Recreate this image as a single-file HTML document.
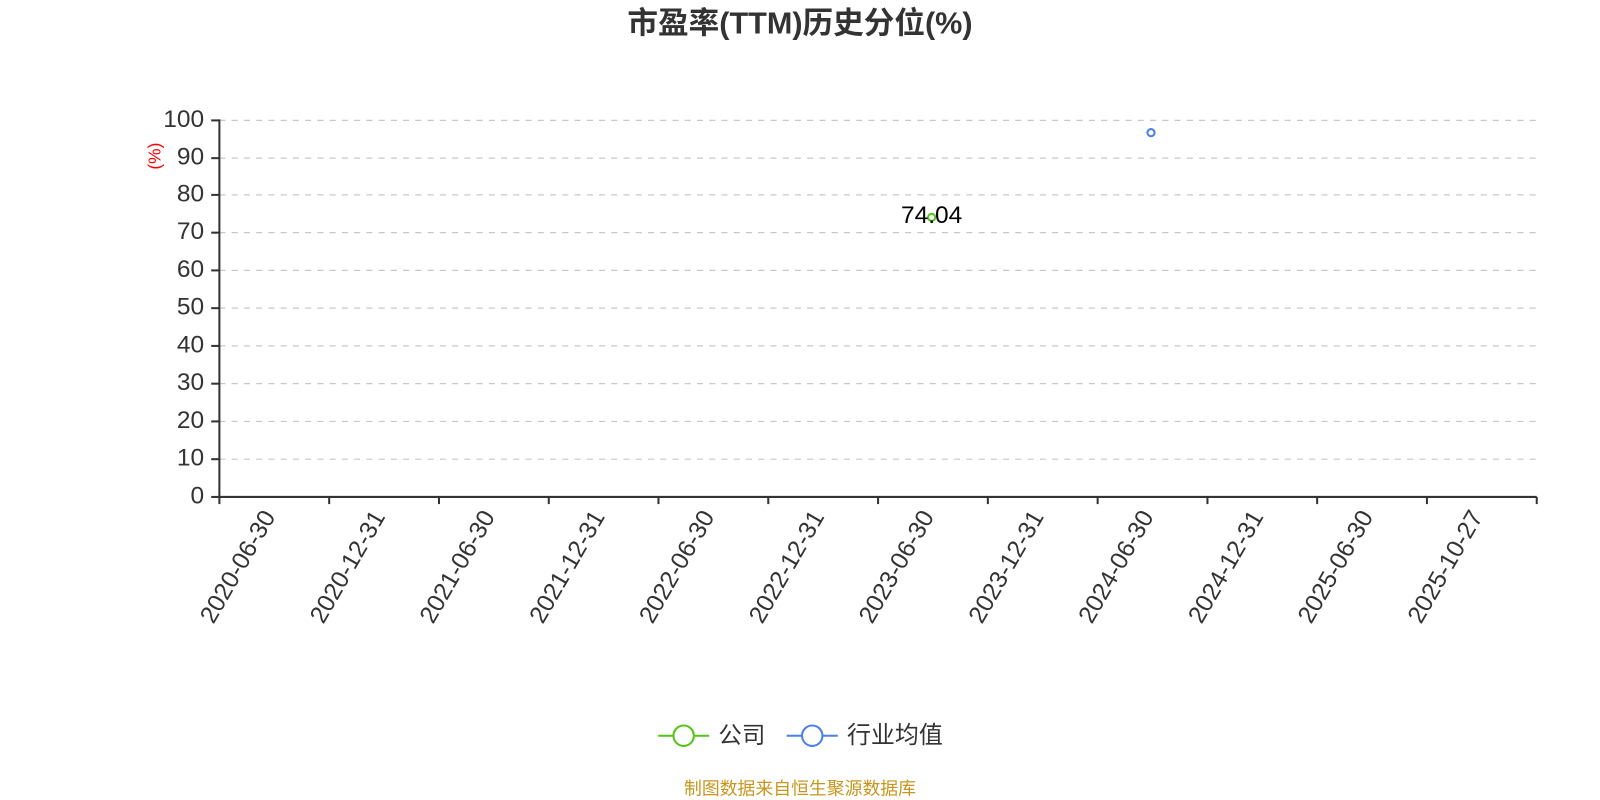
<!DOCTYPE html>
<html><head><meta charset="utf-8"><style>
html,body{margin:0;padding:0;background:#fff;width:1600px;height:800px;overflow:hidden}
svg{display:block}
text{font-family:"Liberation Sans","Noto Sans CJK SC",sans-serif}
</style></head><body>
<svg width="1600" height="800" viewBox="0 0 1568 784" xmlns="http://www.w3.org/2000/svg">
<text x="784" y="33" text-anchor="middle" font-size="30" font-weight="bold" fill="#333">市盈率(TTM)历史分位(%)</text>
<g stroke="#c8c8c8" stroke-width="1.2" stroke-dasharray="6,6">
<line x1="215" y1="118" x2="1506" y2="118"/>
<line x1="215" y1="155" x2="1506" y2="155"/>
<line x1="215" y1="191" x2="1506" y2="191"/>
<line x1="215" y1="228" x2="1506" y2="228"/>
<line x1="215" y1="265" x2="1506" y2="265"/>
<line x1="215" y1="302" x2="1506" y2="302"/>
<line x1="215" y1="339" x2="1506" y2="339"/>
<line x1="215" y1="376" x2="1506" y2="376"/>
<line x1="215" y1="413" x2="1506" y2="413"/>
<line x1="215" y1="450" x2="1506" y2="450"/>
</g>
<g stroke="#333" stroke-width="2">
<line x1="215" y1="117" x2="215" y2="488"/>
<line x1="214" y1="487" x2="1506" y2="487"/>
<line x1="207" y1="118" x2="215" y2="118"/><line x1="207" y1="155" x2="215" y2="155"/>
<line x1="207" y1="191" x2="215" y2="191"/><line x1="207" y1="228" x2="215" y2="228"/>
<line x1="207" y1="265" x2="215" y2="265"/><line x1="207" y1="302" x2="215" y2="302"/>
<line x1="207" y1="339" x2="215" y2="339"/><line x1="207" y1="376" x2="215" y2="376"/>
<line x1="207" y1="413" x2="215" y2="413"/><line x1="207" y1="450" x2="215" y2="450"/>
<line x1="207" y1="487" x2="215" y2="487"/>
<line x1="215" y1="487" x2="215" y2="494"/><line x1="322.6" y1="487" x2="322.6" y2="494"/>
<line x1="430.2" y1="487" x2="430.2" y2="494"/><line x1="537.8" y1="487" x2="537.8" y2="494"/>
<line x1="645.3" y1="487" x2="645.3" y2="494"/><line x1="752.9" y1="487" x2="752.9" y2="494"/>
<line x1="860.5" y1="487" x2="860.5" y2="494"/><line x1="968.1" y1="487" x2="968.1" y2="494"/>
<line x1="1075.7" y1="487" x2="1075.7" y2="494"/><line x1="1183.3" y1="487" x2="1183.3" y2="494"/>
<line x1="1290.8" y1="487" x2="1290.8" y2="494"/><line x1="1398.4" y1="487" x2="1398.4" y2="494"/>
<line x1="1506" y1="487" x2="1506" y2="494"/>
</g>
<g font-size="24" fill="#333" text-anchor="end" dominant-baseline="middle">
<text x="200" y="118">100</text><text x="200" y="155">90</text><text x="200" y="191">80</text>
<text x="200" y="228">70</text><text x="200" y="265">60</text><text x="200" y="302">50</text>
<text x="200" y="339">40</text><text x="200" y="376">30</text><text x="200" y="413">20</text>
<text x="200" y="450">10</text><text x="200" y="487">0</text>
</g>
<text x="153" y="153" font-size="17" fill="#f00" text-anchor="middle" dominant-baseline="middle" transform="rotate(-90 153 153)">(%)</text>
<g font-size="24" fill="#333" text-anchor="end" dominant-baseline="middle">
<text transform="translate(265,503) rotate(-60)">2020-06-30</text>
<text transform="translate(372.6,503) rotate(-60)">2020-12-31</text>
<text transform="translate(480.2,503) rotate(-60)">2021-06-30</text>
<text transform="translate(587.8,503) rotate(-60)">2021-12-31</text>
<text transform="translate(695.3,503) rotate(-60)">2022-06-30</text>
<text transform="translate(802.9,503) rotate(-60)">2022-12-31</text>
<text transform="translate(910.5,503) rotate(-60)">2023-06-30</text>
<text transform="translate(1018.1,503) rotate(-60)">2023-12-31</text>
<text transform="translate(1125.7,503) rotate(-60)">2024-06-30</text>
<text transform="translate(1233.3,503) rotate(-60)">2024-12-31</text>
<text transform="translate(1340.8,503) rotate(-60)">2025-06-30</text>
<text transform="translate(1448.4,503) rotate(-60)">2025-10-27</text>
</g>
<circle cx="913" cy="213" r="3.5" fill="#fff" stroke="#52c41a" stroke-width="2"/>
<text x="913" y="212" font-size="24" fill="#000" text-anchor="middle" dominant-baseline="middle">74.04</text>
<circle cx="1128" cy="130" r="3.5" fill="#fff" stroke="#4a80e8" stroke-width="2"/>
<line x1="645" y1="721" x2="695" y2="721" stroke="#52c41a" stroke-width="2"/>
<circle cx="670" cy="721" r="10" fill="#fff" stroke="#52c41a" stroke-width="2"/>
<text x="704" y="722" font-size="23" fill="#333" dominant-baseline="middle">公司</text>
<line x1="771" y1="721" x2="821" y2="721" stroke="#4a80e8" stroke-width="2"/>
<circle cx="796" cy="721" r="10" fill="#fff" stroke="#4a80e8" stroke-width="2"/>
<text x="830" y="722" font-size="23.5" fill="#333" dominant-baseline="middle">行业均值</text>
<text x="784" y="774" font-size="17.5" fill="#c8961e" text-anchor="middle" dominant-baseline="middle">制图数据来自恒生聚源数据库</text>
</svg>
</body></html>
